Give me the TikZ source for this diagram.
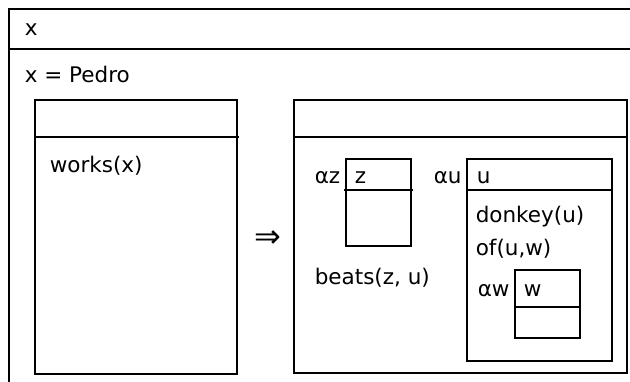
\documentclass[tikz,border=0pt]{standalone}
\usepackage{fontspec}
\setmainfont{DejaVu Sans}
\begin{document}
\begin{tikzpicture}[x=1pt,y=-1pt,line width=1.6pt,
  lbl/.style={anchor=base west,inner sep=0pt,font=\fontsize{21.5}{25}\selectfont}]
\useasboundingbox (0,0) rectangle (630,381);
\clip (0,0) rectangle (630,381);
\fill[white] (0,0) rectangle (630,381);
% outer box (runs off the page to the right and bottom)
\draw (645,9) -- (9,9) -- (9,400);
\draw (9,49) -- (645,49);
\node[lbl] (tx) at (24,35) {x};
\node[lbl] (eq) at (24,82) {x = Pedro};
% left inner box
\draw (35,100) rectangle (237,374);
\draw (35,137) -- (239,137);
\node[lbl] (works) at (49,172) {works(x)};
% implication
\node[inner sep=0pt,font=\fontsize{32}{36}\selectfont] (impl) at (267.5,239) {⇒};
% right inner box
\draw (294,100) rectangle (627,373);
\draw (294,137) -- (627,137);
% z box
\draw (346,159) rectangle (411,246);
\draw (344,190) -- (413,190);
\node[lbl] (az) at (314,183) {αz};
\node[lbl] (z) at (354,183) {z};
\node[lbl] (beats) at (314,284) {beats(z, u)};
% u box
\draw (467,159) rectangle (612,361);
\draw (467,190) -- (612,190);
\node[lbl] (au) at (433,183) {αu};
\node[lbl] (u) at (476,183) {u};
\node[lbl] (donkey) at (475,222) {donkey(u)};
\node[lbl] (of) at (475,255) {of(u,w)};
% w box
\draw (515,270) rectangle (580,338);
\draw (515,307) -- (580,307);
\node[lbl] (aw) at (477,296) {αw};
\node[lbl] (w) at (523,296) {w};
\end{tikzpicture}
\end{document}
